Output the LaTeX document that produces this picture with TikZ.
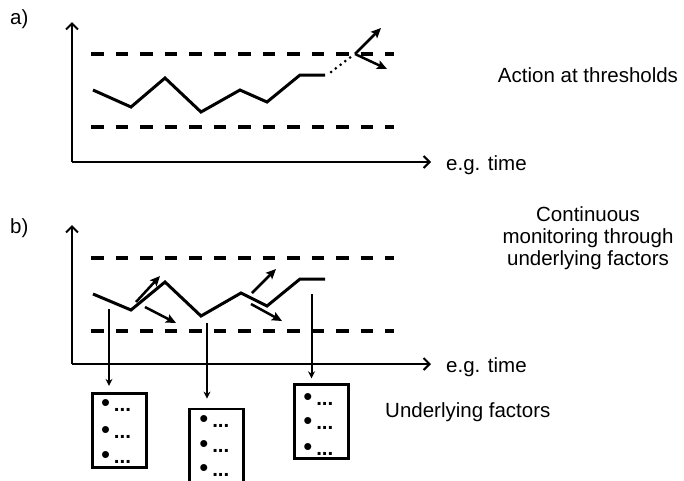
\documentclass[tikz,border=0pt]{standalone}
\usepackage{fontspec}
\setmainfont{Liberation Sans}
\usetikzlibrary{arrows.meta}
\begin{document}
\begin{tikzpicture}[x=1pt,y=-1pt,
  lbl/.style={inner sep=0pt, font=\fontsize{20.5}{22}\selectfont},
  axis/.style={line width=2pt, -{Straight Barb[length=6pt,width=12pt,line width=2pt]}},
  thresh/.style={line width=3.2pt, dash pattern=on 12.5pt off 12pt},
  dataline/.style={line width=3pt, line join=miter},
  act/.style={line width=2.5pt, -{Stealth[length=10pt,width=9pt,inset=2pt]}},
  conn/.style={line width=2pt, -{Stealth[length=7pt,width=7pt]}},
  factbox/.style={draw, line width=2.8pt, minimum width=54pt, minimum height=74pt, inner sep=0pt},
  bul/.style={inner sep=0pt, anchor=base west, font=\fontsize{20.5}{22}\selectfont}
]
\useasboundingbox (0,0) rectangle (684,480);
\clip (0,0) rectangle (684,480);

% ---------- panel a ----------
\node[lbl, anchor=base west] (la) at (10,24) {a)};
\coordinate (aO) at (72,162);
\coordinate (aY) at (72,22);
\coordinate (aX) at (431,162);
\draw[axis] (aO) -- (aY);
\draw[axis] (aO) -- (aX);
\coordinate (aU1) at (91,54);  \coordinate (aU2) at (394,54);
\coordinate (aL1) at (91,127); \coordinate (aL2) at (394,127);
\draw[thresh] (aU1) -- (aU2);
\draw[thresh] (aL1) -- (aL2);
\draw[dataline] (93,90) -- (131,107) -- (165,78) -- (201,112) -- (240,90) -- (267,102) -- (300,75) -- (325,75);
\coordinate (aD1) at (331,72);
\coordinate (aD2) at (352,56);
\draw[line width=3pt, line cap=round, dash pattern=on 0pt off 6pt] (aD1) -- (aD2);
\coordinate (aB) at (355,54);
\coordinate (aT1) at (381,28);
\coordinate (aT2) at (387,69);
\draw[act] (aB) -- (aT1);
\draw[act] (aB) -- (aT2);
\node[lbl, anchor=base west] (ta) at (446,170) {e.g. time};
\node[lbl, anchor=base] (act) at (588,82) {Action at thresholds};

% ---------- panel b ----------
\node[lbl, anchor=base west] (lb) at (10,233) {b)};
\coordinate (bO) at (72,364);
\coordinate (bY) at (72,225);
\coordinate (bX) at (431,364);
\draw[axis] (bO) -- (bY);
\draw[axis] (bO) -- (bX);
\coordinate (bU1) at (91,258);  \coordinate (bU2) at (394,258);
\coordinate (bL1) at (91,331);  \coordinate (bL2) at (394,331);
\draw[thresh] (bU1) -- (bU2);
\draw[thresh] (bL1) -- (bL2);
\draw[dataline] (93,294) -- (131,310) -- (165,282) -- (201,316) -- (241,293) -- (267,306) -- (300,279) -- (325,279);
\coordinate (s1) at (136,302); \coordinate (e1) at (160,276);
\coordinate (s2) at (145,307); \coordinate (e2) at (176,323);
\coordinate (s3) at (252,293); \coordinate (e3) at (276,269);
\coordinate (s4) at (251,304); \coordinate (e4) at (282,321);
\draw[act] (s1) -- (e1);
\draw[act] (s2) -- (e2);
\draw[act] (s3) -- (e3);
\draw[act] (s4) -- (e4);
\node[lbl, anchor=base west] (tb) at (446,372) {e.g. time};
\node[lbl, align=center, anchor=base] (mon) at (588,265) {Continuous\\monitoring through\\underlying factors};

% boxes
\node[factbox] (b1) at (119.7,430.3) {};
\node[factbox] (b2) at (216.3,446) {};
\node[factbox] (b3) at (321.2,421.7) {};
\coordinate (c1) at (109,309);
\coordinate (c2) at (207,323);
\coordinate (c3) at (311.5,294);
\draw[conn, shorten >=6pt] (c1) -- (c1 |- b1.north);
\draw[conn, shorten >=9pt] (c2) -- (c2 |- b2.north);
\draw[conn, shorten >=5pt] (c3) -- (c3 |- b3.north);

\newcommand{\bitem}{\scalebox{1.25}{•}\hspace{4pt}\textbf{...}}
\foreach \y [count=\i] in {411,438,463} \node[bul] (f1\i) at (100.8,\y) {\bitem};
\foreach \y [count=\i] in {427,452,476} \node[bul] (f2\i) at (199.1,\y) {\bitem};
\foreach \y [count=\i] in {405,429,455} \node[bul] (f3\i) at (303.1,\y) {\bitem};

\node[lbl, anchor=base west] (uf) at (385,417) {Underlying factors};
\end{tikzpicture}
\end{document}
